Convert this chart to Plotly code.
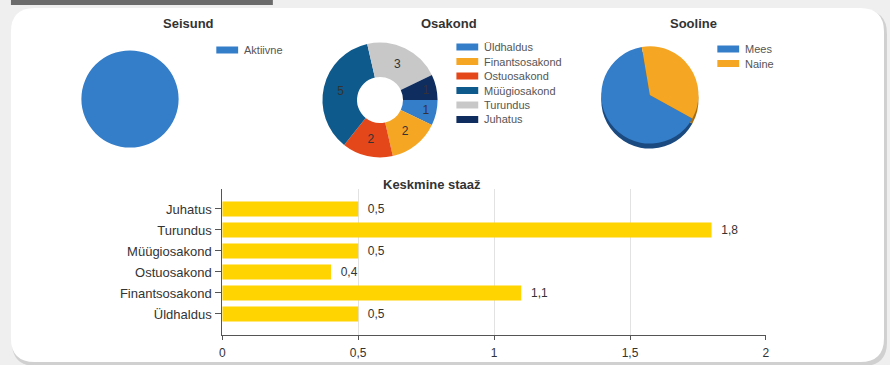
import plotly.graph_objects as go

W, H = 890, 365

# --- data -------------------------------------------------------------
status_labels = ["Aktiivne"]
status_values = [14]

dept_labels = ["Üldhaldus", "Finantsosakond", "Ostuosakond", "Müügiosakond", "Turundus", "Juhatus"]
dept_counts = [1, 2, 2, 5, 3, 1]

gender_labels = ["Mees", "Naine"]
gender_values = [9, 5]

tenure_depts = ["Üldhaldus", "Finantsosakond", "Ostuosakond", "Müügiosakond", "Turundus", "Juhatus"]
tenure_years = [0.5, 1.1, 0.4, 0.5, 1.8, 0.5]
x_ticks = [0, 0.5, 1, 1.5, 2]

# --- styling ----------------------------------------------------------
status_colors = ["#347dc8"]
dept_colors = ["#347dc8", "#f5a623", "#e4481a", "#0f5a8c", "#c8c8c8", "#0f2d5f"]
gender_colors = ["#347dc8", "#f5a623"]
gender_rim = ["#1a4a80", "#a86c0c"]
bar_color = "#ffd400"
FONT = "Liberation Sans, Arial, sans-serif"


def px(x):
    return x / W


def py(y):
    return 1 - y / H


def square(cx, cy, r):
    return dict(x=[px(cx - r), px(cx + r)], y=[py(cy + r), py(cy - r)])


def rounded(x0, y0, x1, y1, r):
    pts = [
        f"M {px(x0 + r)},{py(y0)}",
        f"L {px(x1 - r)},{py(y0)}",
        f"Q {px(x1)},{py(y0)} {px(x1)},{py(y0 + r)}",
        f"L {px(x1)},{py(y1 - r)}",
        f"Q {px(x1)},{py(y1)} {px(x1 - r)},{py(y1)}",
        f"L {px(x0 + r)},{py(y1)}",
        f"Q {px(x0)},{py(y1)} {px(x0)},{py(y1 - r)}",
        f"L {px(x0)},{py(y0 + r)}",
        f"Q {px(x0)},{py(y0)} {px(x0 + r)},{py(y0)}",
        "Z",
    ]
    return " ".join(pts)


fig = go.Figure()

# Seisund pie
fig.add_trace(go.Pie(
    labels=status_labels, values=status_values, marker=dict(colors=status_colors),
    domain=square(128, 99, 49), textinfo="none", sort=False, showlegend=False,
    hoverinfo="label+value",
))

# Osakond donut
fig.add_trace(go.Pie(
    labels=dept_labels, values=dept_counts, marker=dict(colors=dept_colors),
    domain=square(380, 100, 58), hole=0.4, sort=False, direction="clockwise",
    rotation=90, textinfo="value", textposition="inside",
    insidetextorientation="horizontal",
    textfont=dict(family=FONT, size=12, color="#333"), showlegend=False,
))

# Sooline pie: darker copy shifted down gives the 3D rim
fig.add_trace(go.Pie(
    labels=gender_labels, values=gender_values, marker=dict(colors=gender_rim),
    domain=square(652, 100, 49), sort=False, direction="clockwise", rotation=119,
    textinfo="none", showlegend=False, hoverinfo="skip",
))
fig.add_trace(go.Pie(
    labels=gender_labels, values=gender_values, marker=dict(colors=gender_colors),
    domain=square(652, 95, 49), sort=False, direction="clockwise", rotation=119,
    textinfo="none", showlegend=False,
))

# Keskmine staaž bars
fig.add_trace(go.Bar(
    x=tenure_years, y=tenure_depts, orientation="h", width=0.71,
    marker=dict(color=bar_color, line=dict(width=0)),
    texttemplate="  %{x:.1f}", textposition="outside", cliponaxis=False,
    textfont=dict(family=FONT, size=12, color="#333"), showlegend=False,
))

shapes = [
    # card shadow and card
    dict(type="path", path=rounded(9, 10, 891, 366, 24), xref="paper", yref="paper",
         fillcolor="rgba(0,0,0,0.13)", line=dict(width=0), layer="below"),
    dict(type="path", path=rounded(8, 8, 888, 362, 24), xref="paper", yref="paper",
         fillcolor="white", line=dict(width=0), layer="below"),
    # header tab strip
    dict(type="rect", xref="paper", yref="paper", x0=px(8), x1=px(272), y0=py(5), y1=py(0),
         fillcolor="#6b6b6b", line=dict(width=0), layer="below"),
]
annotations = []


def add_legend(labels, colors, x0, y0, step):
    for i, (lab, col) in enumerate(zip(labels, colors)):
        yc = y0 + i * step
        shapes.append(dict(type="rect", xref="paper", yref="paper",
                           x0=px(x0), x1=px(x0 + 22), y0=py(yc + 3.5), y1=py(yc - 3.5),
                           fillcolor=col, line=dict(width=0)))
        annotations.append(dict(text=lab, x=px(x0 + 26), y=py(yc), xref="paper", yref="paper",
                                xanchor="left", yanchor="middle", showarrow=False,
                                font=dict(family=FONT, size=11, color="#555")))


add_legend(status_labels, status_colors, 215, 50, 14.5)
add_legend(dept_labels, dept_colors, 457, 47, 14.5)
add_legend(gender_labels, gender_colors, 720, 49, 14.5)

for title, x, y in [("Seisund", 187, 24), ("Osakond", 450, 24), ("Sooline", 696, 24),
                    ("Keskmine staaž", 432, 184)]:
    annotations.append(dict(text=f"<b>{title}</b>", x=px(x), y=py(y), xref="paper", yref="paper",
                            xanchor="center", yanchor="middle", showarrow=False,
                            font=dict(family=FONT, size=13, color="#333")))

fig.update_layout(
    width=W, height=H, margin=dict(l=0, r=0, t=0, b=0),
    paper_bgcolor="#efefef", plot_bgcolor="rgba(0,0,0,0)",
    separators=", ", font=dict(family=FONT, size=12, color="#333"),
    shapes=shapes, annotations=annotations, bargap=0.3,
    xaxis=dict(domain=[px(221), px(769)], range=[0, 2], tickvals=x_ticks,
               showgrid=True, gridcolor="#e2e2e2", gridwidth=1, zeroline=False,
               showline=True, linecolor="#555", linewidth=1,
               ticks="outside", ticklen=4, tickcolor="#555", ticklabelstandoff=3,
               tickfont=dict(size=12, color="#333"), fixedrange=True),
    yaxis=dict(domain=[py(335), py(189)], range=[-1, 5.95], type="category",
               showgrid=False, zeroline=False, showline=True, linecolor="#555", linewidth=1,
               ticks="outside", ticklen=6, tickcolor="#555", ticklabelstandoff=1,
               tickfont=dict(size=13, color="#333"), fixedrange=True),
)

fig.write_html("out.html")
